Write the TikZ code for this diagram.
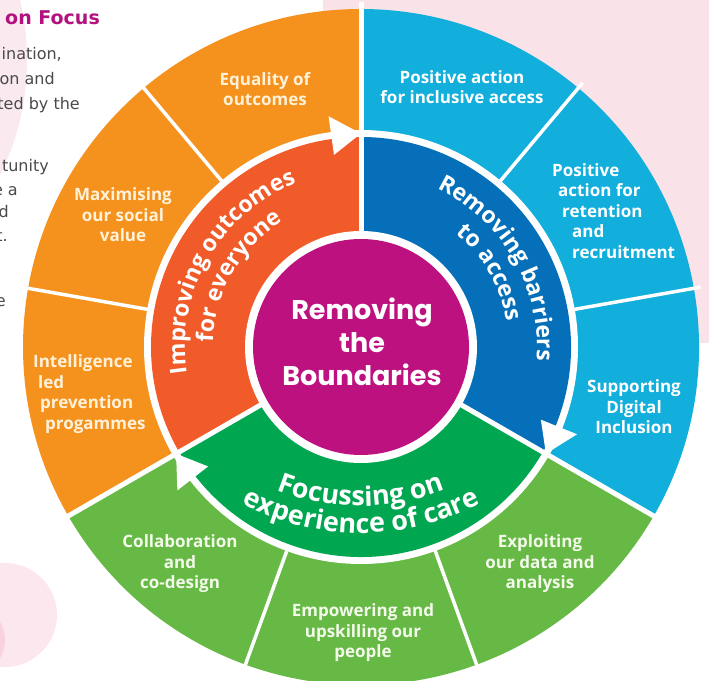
\documentclass[tikz,border=0pt]{standalone}
\usepackage{fontspec}
\setmainfont{Open Sans}
\newfontfamily\hubfont{Poppins}
\newfontfamily\pagefont{DejaVu Sans}
\usetikzlibrary{decorations.text}

\definecolor{outerorange}{HTML}{F5921E}
\definecolor{innerorange}{HTML}{F15B2A}
\definecolor{outerblue}{HTML}{12AEDC}
\definecolor{innerblue}{HTML}{0570B9}
\definecolor{outergreen}{HTML}{67B946}
\definecolor{innergreen}{HTML}{00A650}
\definecolor{hubmagenta}{HTML}{BC117F}
\definecolor{pagepink}{HTML}{FAE3E8}
\definecolor{softpink}{HTML}{FAEAF0}
\definecolor{dotpink}{HTML}{FCE7EE}
\definecolor{deeppink}{HTML}{F8D2DD}
\definecolor{headmagenta}{HTML}{B3127E}
\definecolor{bodygrey}{HTML}{4A4A4A}
\definecolor{creamtext}{HTML}{FFF2D9}
\definecolor{mintwhite}{HTML}{F3FAEA}

\newcommand\ringfont{\bfseries\fontsize{23}{27}\selectfont}
\newcommand\basefont{\bfseries\fontsize{27}{31}\selectfont}

\begin{document}
\begin{tikzpicture}[x=1pt,y=1pt,
  outerlabel/.style={font=\bfseries\fontsize{17}{20.5}\selectfont, text=#1, align=center, inner sep=0pt},
  leftlabel/.style={font=\bfseries\fontsize{17}{20.5}\selectfont, text=#1, align=left, inner sep=0pt, anchor=west},
  bodyline/.style={font=\pagefont\fontsize{16}{20}\selectfont, text=bodygrey, inner sep=0pt, anchor=base east},
  ringtext/.style={decorate, decoration={text along path, text align=center, text color=white, text={|\ringfont|#1}}},
  basetext/.style={decorate, decoration={text along path, text align=center, text color=white, text={|\basefont|#1}}},
  divider/.style={white, line width=3.5pt},
  maindivider/.style={white, line width=5pt}]
\useasboundingbox (0,0) rectangle (709,680);
\clip (0,0) rectangle (709,680);

% page background
\fill[white] (0,0) rectangle (709,680);
\fill[pagepink] (323,680) rectangle (709,337);
\fill[softpink] (-231,620) circle[radius=258pt];
\fill[dotpink] (5,65) circle[radius=52pt];
\fill[deeppink] (-30,40) circle[radius=35pt];

% surrounding page text
\node[font=\pagefont\bfseries\fontsize{19}{24}\selectfont, text=headmagenta, inner sep=0pt, anchor=base east] (head) at (100,655) {on Focus};
\node[bodyline] (b1) at (62,620) {ination,};
\node[bodyline] (b2) at (55,595) {on and};
\node[bodyline] (b3) at (80,570) {ted by the};
\node[bodyline] (b4) at (49,508) {tunity};
\node[bodyline] (b5) at (18,484) {e a};
\node[bodyline] (b6) at (9,462) {d};
\node[bodyline] (b7) at (8,438) {t.};
\node[bodyline] (b8) at (6,373) {e};

\begin{scope}[shift={(361,333)}]
  % outer ring
  \foreach \a/\b/\col in {90/210/outerorange, 210/330/outergreen, -30/90/outerblue}
    \fill[\col] (0,0) -- (\a:338pt) arc[start angle=\a, end angle=\b, radius=338pt] -- cycle;
  \fill[white] (0,0) circle[radius=217pt];
  % inner ring
  \foreach \a/\b/\col in {90/210/innerorange, 210/330/innergreen, -30/90/innerblue}
    \fill[\col] (0,0) -- (\a:210pt) arc[start angle=\a, end angle=\b, radius=210pt] -- cycle;
  \fill[white] (0,0) circle[radius=116pt];
  \fill[hubmagenta] (0,0) circle[radius=108pt];
  % segment dividers
  \foreach \a in {130,170,250,290,10,50}
    \draw[divider] (\a:213pt) -- (\a:345pt);
  \foreach \a in {90,210,330}
    \draw[maindivider] (\a:110pt) -- (\a:345pt);
  % clockwise arrowheads on the ring separator
  \foreach \a [evaluate=\a as \b using \a+8] in {90,210,330}
    \fill[white] (\a:213.5pt) -- (\b:194pt) -- (\b:233pt) -- cycle;
  % curved ring titles
  \path[ringtext=Improving outcomes] (215:176pt) arc[start angle=215, end angle=85, radius=176pt];
  \path[ringtext=for everyone] (215:148pt) arc[start angle=215, end angle=85, radius=148pt];
  \path[ringtext=Removing barriers] (95:176pt) arc[start angle=95, end angle=-35, radius=176pt];
  \path[ringtext=to access] (95:148pt) arc[start angle=95, end angle=-35, radius=148pt];
  % the lower title follows flatter arcs centred above the hub
  \begin{scope}[shift={(0,70)}]
    \path[basetext=Focussing on] (235:229pt) arc[start angle=235, end angle=305, radius=229pt];
    \path[basetext=experience of care] (230:256pt) arc[start angle=230, end angle=310, radius=256pt];
  \end{scope}
  % hub
  \node[font=\hubfont\bfseries\fontsize{27}{33}\selectfont, text=white, align=center] (hub) at (1,5) {Removing\\the\\Boundaries};
\end{scope}

% outer ring labels
\node[outerlabel=creamtext] (equality) at (265,591) {Equality of\\outcomes};
\node[outerlabel=creamtext] (maximising) at (123,465) {Maximising\\our social\\value};
\node[leftlabel=creamtext] (intelligence) at (33,286) {Intelligence\\\hspace*{5pt}led\\\hspace*{7pt}prevention\\\hspace*{12pt}progammes};
\node[outerlabel=white] (inclusive) at (462,593) {Positive action\\for inclusive access};
\node[leftlabel=white] (retention) at (552,469) {Positive\\\hspace*{6pt}action for\\\hspace*{10pt}retention\\\hspace*{20pt}and\\\hspace*{20pt}recruitment};
\node[outerlabel=white] (digital) at (634,273) {Supporting\\Digital\\Inclusion};
\node[outerlabel=mintwhite] (exploiting) at (540,116) {Exploiting\\our data and\\analysis};
\node[outerlabel=mintwhite] (empowering) at (363,47) {Empowering and\\upskilling our\\people};
\node[outerlabel=mintwhite] (collaboration) at (180,116) {Collaboration\\and\\co-design};
\end{tikzpicture}
\end{document}
